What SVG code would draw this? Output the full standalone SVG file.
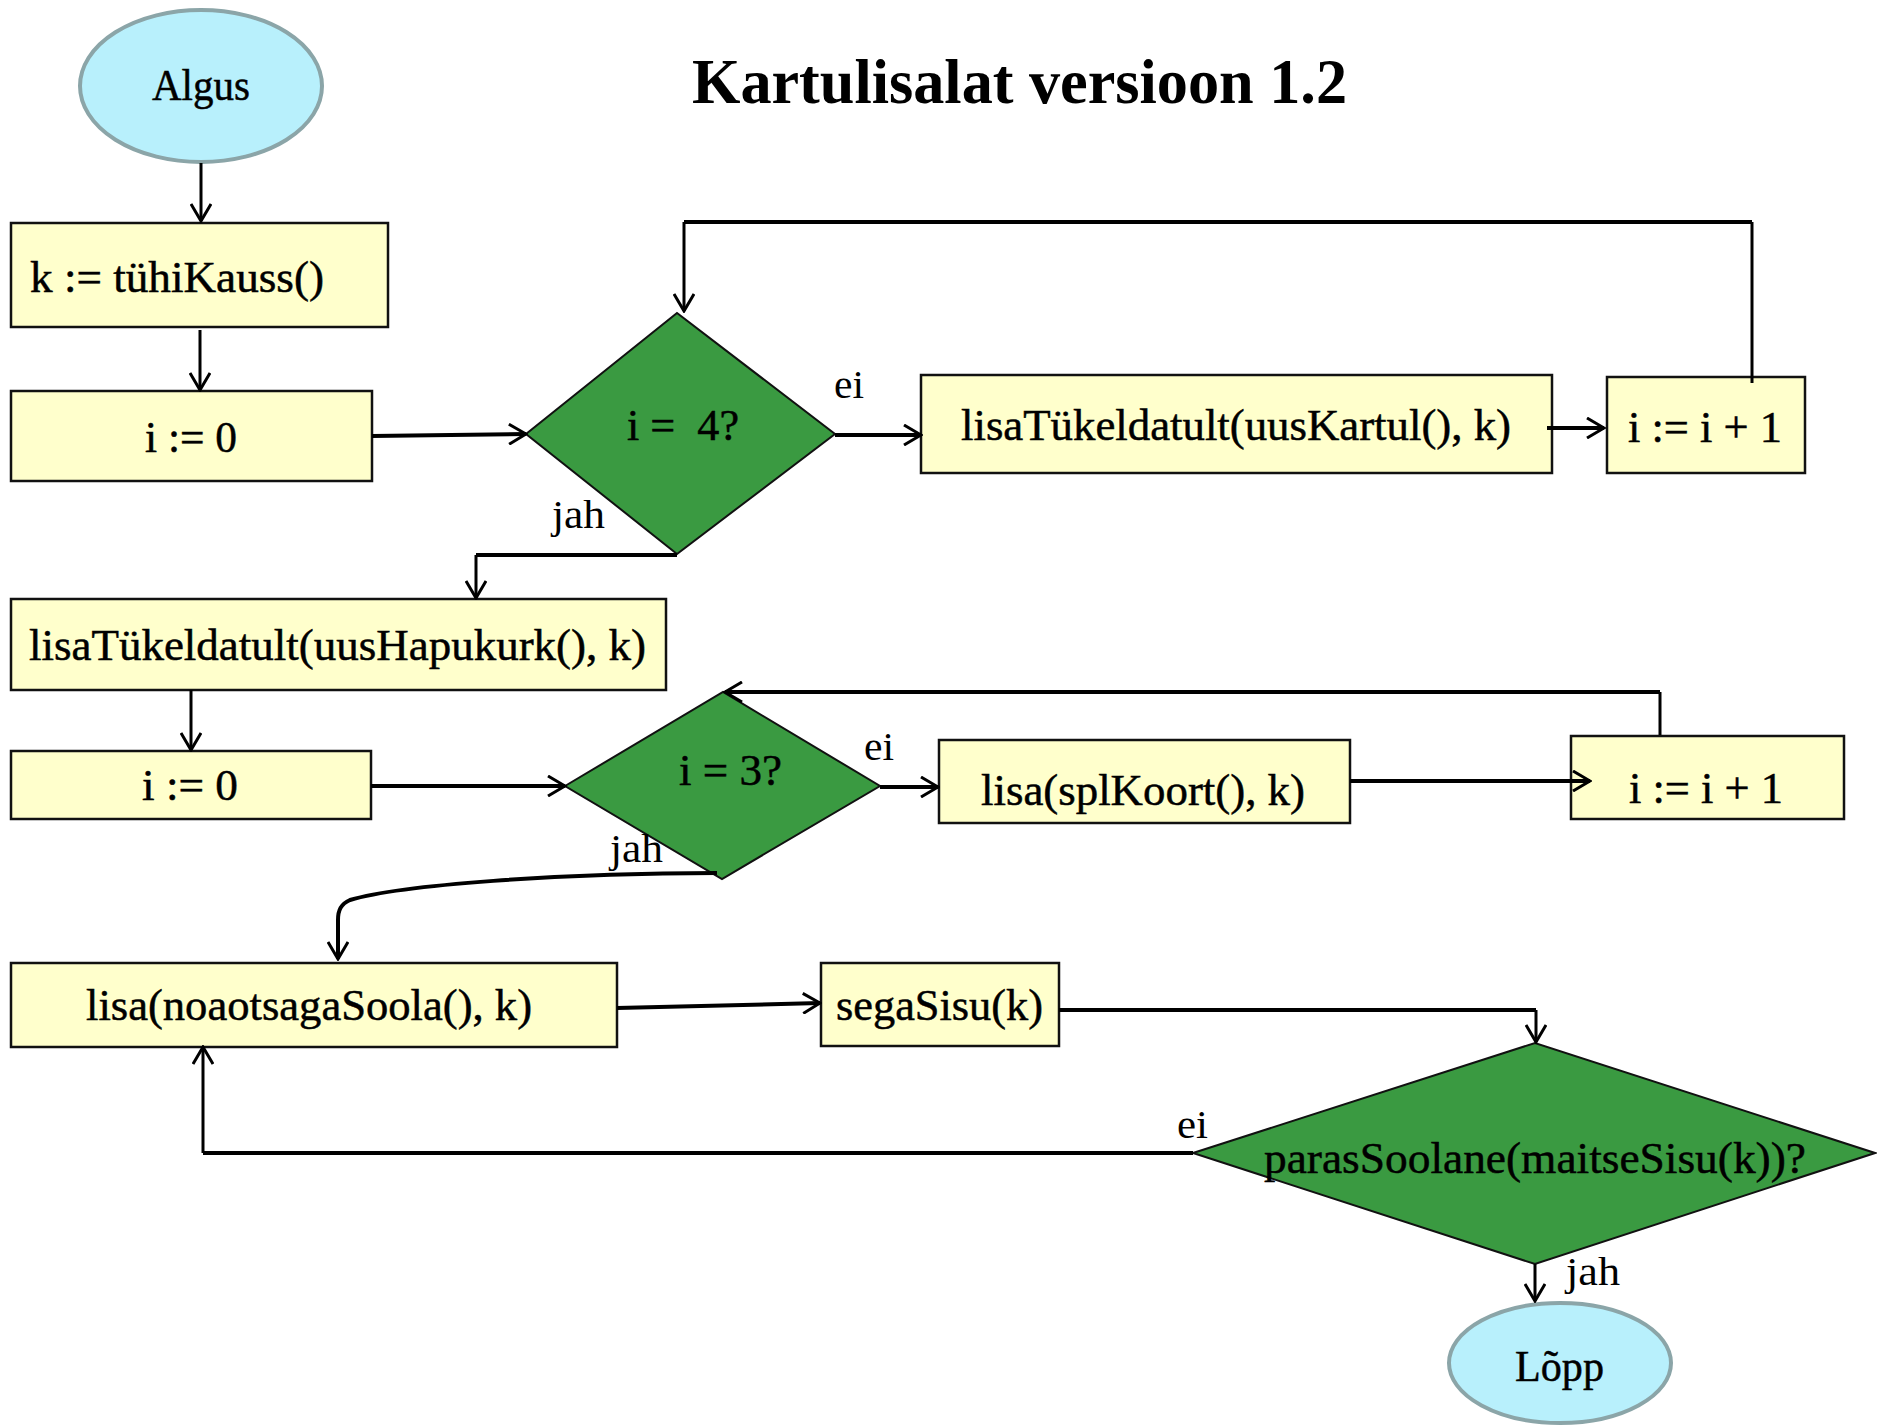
<svg xmlns="http://www.w3.org/2000/svg" width="1877" height="1426" viewBox="0 0 1877 1426">
  <style>
    .term { fill: #B8F0FC; stroke: #8BA5A8; stroke-width: 4; }
    .box { fill: #FFFFCC; stroke: #111; stroke-width: 2.5; }
    .dec { fill: #3A9A41; stroke: #111; stroke-width: 2; }
    .t { font-family: "Liberation Serif", "Times New Roman", serif; font-size: 45px; fill: #000; stroke: #000; stroke-width: 0.5; white-space: pre; }
    .lbl { font-family: "Liberation Serif", "Times New Roman", serif; font-size: 40px; fill: #000; }
    .title { font-family: "Liberation Serif", "Times New Roman", serif; font-size: 64px; font-weight: bold; fill: #000; }
    .c { fill: none; stroke: #000; stroke-width: 3; }
    .ct { fill: none; stroke: #000; stroke-width: 4; }
  </style>
  <defs>
    <marker id="arr" markerUnits="userSpaceOnUse" viewBox="0 0 20 22" markerWidth="20" markerHeight="22" refX="18" refY="11" orient="auto">
      <path d="M1,1 L18,11 L1,21" fill="none" stroke="#000" stroke-width="3"/>
    </marker>
  </defs>

  <rect width="1877" height="1426" fill="#fff"/>

  <text class="title" x="692" y="103" textLength="655" lengthAdjust="spacingAndGlyphs">Kartulisalat versioon 1.2</text>

  <g id="algus">
    <ellipse class="term" cx="201" cy="86" rx="121" ry="76"/>
    <text class="t" x="152" y="100" font-size="41" stroke-width="0.2" textLength="98" lengthAdjust="spacingAndGlyphs">Algus</text>
  </g>

  <g id="k-tyhikauss">
    <rect class="box" x="11" y="223" width="377" height="104"/>
    <text class="t" x="30" y="292" textLength="294" lengthAdjust="spacingAndGlyphs">k := tühiKauss()</text>
  </g>

  <g id="i-null-1">
    <rect class="box" x="11" y="391" width="361" height="90"/>
    <text class="t" x="145" y="452" textLength="92" lengthAdjust="spacingAndGlyphs">i := 0</text>
  </g>

  <g id="kas-i-4">
    <polygon class="dec" points="526,434 677,313 835,434 677,554"/>
    <text class="t" x="627" y="440" textLength="112" lengthAdjust="spacingAndGlyphs">i =  4?</text>
  </g>

  <g id="lisa-kartul">
    <rect class="box" x="921" y="375" width="631" height="98"/>
    <text class="t" x="961" y="440" textLength="550" lengthAdjust="spacingAndGlyphs">lisaTükeldatult(uusKartul(), k)</text>
  </g>

  <g id="i-pluss-1-a">
    <rect class="box" x="1607" y="377" width="198" height="96"/>
    <text class="t" x="1628" y="442" textLength="154" lengthAdjust="spacingAndGlyphs">i := i + 1</text>
  </g>

  <g id="lisa-hapukurk">
    <rect class="box" x="11" y="599" width="655" height="91"/>
    <text class="t" x="29" y="660" textLength="617" lengthAdjust="spacingAndGlyphs">lisaTükeldatult(uusHapukurk(), k)</text>
  </g>

  <g id="i-null-2">
    <rect class="box" x="11" y="751" width="360" height="68"/>
    <text class="t" x="142" y="800" textLength="96" lengthAdjust="spacingAndGlyphs">i := 0</text>
  </g>

  <g id="kas-i-3">
    <polygon class="dec" points="565,786 723,692 880,786 722,879"/>
    <text class="t" x="679" y="785" textLength="103" lengthAdjust="spacingAndGlyphs">i = 3?</text>
  </g>

  <g id="lisa-koort">
    <rect class="box" x="939" y="740" width="411" height="83"/>
    <text class="t" x="981" y="805" textLength="324" lengthAdjust="spacingAndGlyphs">lisa(splKoort(), k)</text>
  </g>

  <g id="i-pluss-1-b">
    <rect class="box" x="1571" y="736" width="273" height="83"/>
    <text class="t" x="1629" y="803" textLength="154" lengthAdjust="spacingAndGlyphs">i := i + 1</text>
  </g>

  <g id="lisa-sool">
    <rect class="box" x="11" y="963" width="606" height="84"/>
    <text class="t" x="86" y="1020" textLength="446" lengthAdjust="spacingAndGlyphs">lisa(noaotsagaSoola(), k)</text>
  </g>

  <g id="sega-sisu">
    <rect class="box" x="821" y="963" width="238" height="83"/>
    <text class="t" x="836" y="1020" textLength="207" lengthAdjust="spacingAndGlyphs">segaSisu(k)</text>
  </g>

  <g id="paras-soolane">
    <polygon class="dec" points="1193,1153 1535,1043 1875,1153 1535,1264"/>
    <text class="t" x="1264" y="1173" textLength="542" lengthAdjust="spacingAndGlyphs">parasSoolane(maitseSisu(k))?</text>
  </g>

  <g id="lopp">
    <ellipse class="term" cx="1560" cy="1363" rx="111" ry="60"/>
    <text class="t" x="1515" y="1381" font-size="42" stroke-width="0.2" textLength="89" lengthAdjust="spacingAndGlyphs">Lõpp</text>
  </g>

  <!-- connectors, drawn over the nodes -->
  <g id="connectors">
    <path class="c" d="M201,163 L201,221" marker-end="url(#arr)"/>
    <path class="c" d="M200,330 L200,390" marker-end="url(#arr)"/>
    <path class="ct" d="M372,436 L526,434" marker-end="url(#arr)"/>
    <path class="ct" d="M835,435 L921,435" marker-end="url(#arr)"/>
    <path class="ct" d="M1547,428 L1604,428" marker-end="url(#arr)"/>
    <path class="c" d="M1752,383 L1752,222"/>
    <path class="ct" d="M1752,222 L684,222"/>
    <path class="c" d="M684,222 L684,311" marker-end="url(#arr)"/>
    <path class="ct" d="M677,555 L476,555"/>
    <path class="c" d="M476,555 L476,598" marker-end="url(#arr)"/>
    <path class="c" d="M191,690 L191,750" marker-end="url(#arr)"/>
    <path class="ct" d="M371,786 L565,786" marker-end="url(#arr)"/>
    <path class="ct" d="M880,787 L938,787" marker-end="url(#arr)"/>
    <path class="ct" d="M1350,781 L1590,781" marker-end="url(#arr)"/>
    <path class="c" d="M1660,735 L1660,692"/>
    <path class="ct" d="M1660,692 L725,692" marker-end="url(#arr)"/>
    <path class="ct" d="M717,873 C560,873 400,885 350,900 C341,904 338,910 338,920 L338,959" marker-end="url(#arr)"/>
    <path class="ct" d="M617,1008 L820,1003" marker-end="url(#arr)"/>
    <path class="ct" d="M1059,1010 L1536,1010"/>
    <path class="c" d="M1536,1010 L1536,1042" marker-end="url(#arr)"/>
    <path class="ct" d="M1193,1153 L203,1153"/>
    <path class="c" d="M203,1153 L203,1047" marker-end="url(#arr)"/>
    <path class="c" d="M1535,1264 L1535,1301" marker-end="url(#arr)"/>
  </g>

  <!-- edge labels -->
  <g id="labels">
    <text class="lbl" x="834" y="398" textLength="30" lengthAdjust="spacingAndGlyphs">ei</text>
    <text class="lbl" x="552" y="528" textLength="53" lengthAdjust="spacingAndGlyphs">jah</text>
    <text class="lbl" x="864" y="760" textLength="30" lengthAdjust="spacingAndGlyphs">ei</text>
    <text class="lbl" x="610" y="862" textLength="53" lengthAdjust="spacingAndGlyphs">jah</text>
    <text class="lbl" x="1177" y="1138" textLength="31" lengthAdjust="spacingAndGlyphs">ei</text>
    <text class="lbl" x="1566" y="1285" textLength="54" lengthAdjust="spacingAndGlyphs">jah</text>
  </g>
</svg>
